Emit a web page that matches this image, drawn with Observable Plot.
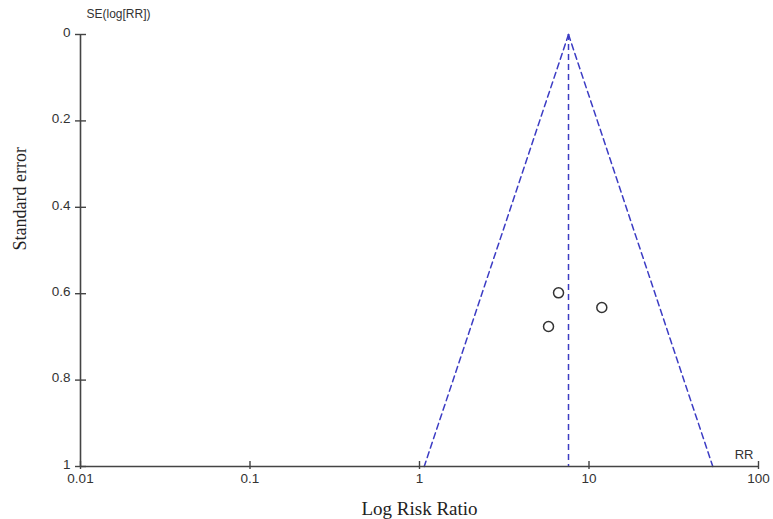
<!DOCTYPE html>
<html>
<head>
<meta charset="utf-8">
<script src="https://cdn.jsdelivr.net/npm/d3@7"></script>
<script src="https://cdn.jsdelivr.net/npm/@observablehq/plot@0.6"></script>
<style>
  html, body { margin: 0; padding: 0; background: #fff; }
</style>
</head>
<body>
<div id="chart"></div>
<script>
// Study data
const studyRR = [6.61, 11.9, 5.77];
const studySE = [0.598, 0.632, 0.676];
// Pooled estimate (apex of funnel)
const pooledRR = 7.57;
const seMax = 1;
// Axis ticks
const xTicks = [0.01, 0.1, 1, 10, 100];
const xTickLabels = ["0.01", "0.1", "1", "10", "100"];
const yTicks = [0, 0.2, 0.4, 0.6, 0.8, 1];
const yTickLabels = ["0", "0.2", "0.4", "0.6", "0.8", "1"];

const studies = studyRR.map((rr, i) => ({rr, se: studySE[i]}));
const z = 1.96;
const funnelLeft = [{rr: pooledRR, se: 0}, {rr: pooledRR * Math.exp(-z * seMax), se: seMax}];
const funnelRight = [{rr: pooledRR, se: 0}, {rr: pooledRR * Math.exp(z * seMax), se: seMax}];

const blue = "#3c3cc4";
const axisColor = "#444";

const chart = Plot.plot({
  width: 773,
  height: 519,
  marginLeft: 80,
  marginRight: 15,
  marginTop: 34,
  marginBottom: 53,
  style: {fontFamily: "'Liberation Sans', Arial, sans-serif", fontSize: "13.5px", color: "#333", background: "#fff"},
  x: {type: "log", domain: [0.01, 100]},
  y: {domain: [0, 1], reverse: true},
  marks: [
    // funnel
    Plot.line(funnelLeft, {x: "rr", y: "se", stroke: blue, strokeWidth: 1.5, strokeDasharray: "6,4"}),
    Plot.line(funnelRight, {x: "rr", y: "se", stroke: blue, strokeWidth: 1.5, strokeDasharray: "6,4"}),
    Plot.ruleX([pooledRR], {y1: 0, y2: seMax, stroke: blue, strokeWidth: 1.5, strokeDasharray: "6,4"}),
    // axis lines
    Plot.ruleY([1], {stroke: axisColor, strokeWidth: 1.6}),
    Plot.ruleX([0.01], {stroke: axisColor, strokeWidth: 1.6}),
    // x ticks (crossing the axis) and labels
    Plot.axisX({ticks: xTicks, tickSize: 8, dy: -5, tickFormat: () => "", label: null, stroke: axisColor, strokeWidth: 1.4}),
    Plot.axisX({ticks: xTicks, tickSize: 0, tickPadding: 7, tickFormat: (d) => xTickLabels[xTicks.indexOf(d)], label: null, fill: "#333"}),
    // y ticks and labels
    Plot.axisY({ticks: yTicks, tickSize: 11, dx: 6, tickFormat: () => "", label: null, stroke: axisColor, strokeWidth: 1.4}),
    Plot.axisY({ticks: yTicks, tickSize: 0, tickPadding: 10, dy: -2, tickFormat: (d) => yTickLabels[yTicks.indexOf(d)], label: null, fill: "#333"}),
    // studies
    Plot.dot(studies, {x: "rr", y: "se", r: 5, stroke: "#333", strokeWidth: 1.5, fill: "white"}),
    // annotations
    Plot.text(["SE(log[RR])"], {x: 0.01, y: 0, text: (d) => d, dx: 6, dy: -20, textAnchor: "start", fontSize: 12, fill: "#333"}),
    Plot.text(["RR"], {x: 100, y: 1, text: (d) => d, dx: -5, dy: -12, textAnchor: "end", fontSize: 13, fill: "#333"}),
    Plot.text(["Log Risk Ratio"], {frameAnchor: "bottom", text: (d) => d, dy: 48, fontSize: 19, fontFamily: "'Liberation Serif', 'Times New Roman', serif", fill: "#222"}),
    Plot.text(["Standard error"], {frameAnchor: "left", text: (d) => d, dx: -60, rotate: -90, fontSize: 18, fontFamily: "'Liberation Serif', 'Times New Roman', serif", fill: "#222"})
  ]
});
document.getElementById("chart").appendChild(chart);
</script>
</body>
</html>
